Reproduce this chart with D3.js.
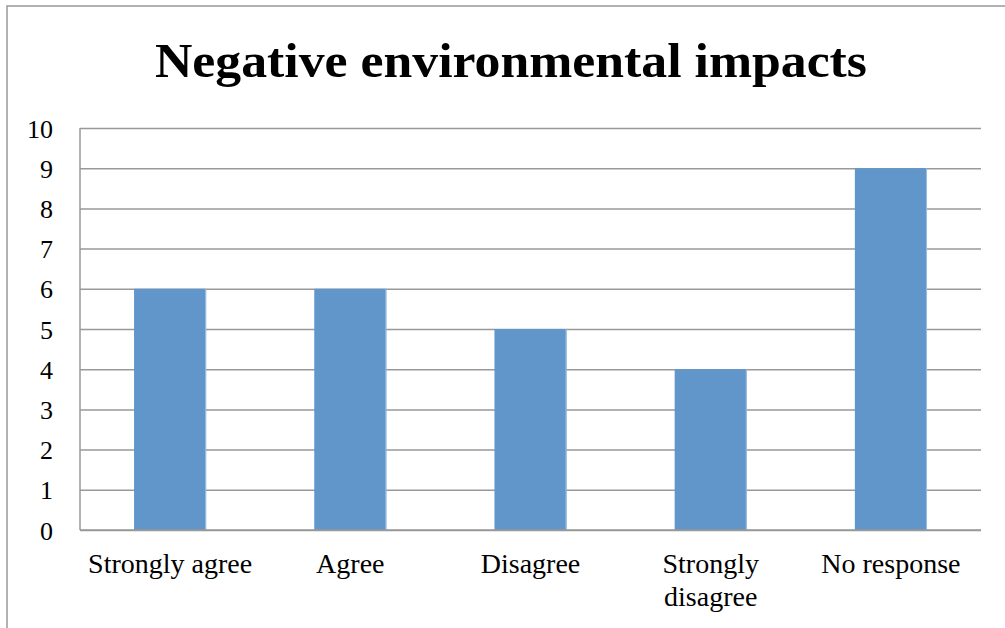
<!DOCTYPE html>
<html>
<head>
<meta charset="utf-8">
<script src="https://cdn.jsdelivr.net/npm/d3@7"></script>
<style>
  html, body { margin: 0; padding: 0; background: #fff; }
  svg { display: block; }
</style>
</head>
<body>
<script>
const title = "Negative environmental impacts";
const categories = ["Strongly agree", "Agree", "Disagree", "Strongly disagree", "No response"];
const values = [6, 6, 5, 4, 9];
const yTicks = [0, 1, 2, 3, 4, 5, 6, 7, 8, 9, 10];

const W = 1005, H = 628;
const plot = { left: 80, right: 981, top: 128, bottom: 530 };
const font = "'Liberation Serif', 'Times New Roman', serif";

const svg = d3.select("body").append("svg").attr("width", W).attr("height", H);

// outer frame
svg.append("rect")
  .attr("x", 7).attr("y", 6).attr("width", W + 10).attr("height", H + 10)
  .attr("fill", "#fff").attr("stroke", "#999").attr("stroke-width", 1.5);

const x = d3.scaleBand().domain(categories).range([plot.left, plot.right])
  .paddingInner(0.6).paddingOuter(0.3);
const y = d3.scaleLinear().domain([0, 10]).range([plot.bottom, plot.top]);

// title
svg.append("text")
  .attr("x", 511).attr("y", 77)
  .attr("text-anchor", "middle")
  .attr("font-family", font).attr("font-weight", "bold")
  .attr("font-size", 48)
  .attr("textLength", 712).attr("lengthAdjust", "spacingAndGlyphs")
  .text(title);

// gridlines
const yAxis = d3.axisLeft(y).tickValues(yTicks).tickSize(-(plot.right - plot.left)).tickPadding(27).tickFormat(d3.format("d"));
const gy = svg.append("g").attr("transform", `translate(${plot.left},0)`).call(yAxis);
gy.select(".domain").remove();
gy.selectAll(".tick line").attr("stroke", "#999").attr("stroke-width", 1.5);
gy.selectAll(".tick text")
  .attr("font-family", font).attr("font-size", 26).attr("fill", "#000")
  .attr("dy", "0.35em");

// left axis line
svg.append("line")
  .attr("x1", plot.left).attr("x2", plot.left)
  .attr("y1", plot.top).attr("y2", plot.bottom)
  .attr("stroke", "#999").attr("stroke-width", 1.5);

// bars
svg.append("g").selectAll("rect").data(values).join("rect")
  .attr("x", (d, i) => x(categories[i]))
  .attr("y", d => y(d))
  .attr("width", x.bandwidth())
  .attr("height", d => y(0) - y(d))
  .attr("fill", "#6096CA");
svg.append("g").selectAll("line").data(values).join("line")
  .attr("x1", (d, i) => x(categories[i]) + x.bandwidth() - 0.5)
  .attr("x2", (d, i) => x(categories[i]) + x.bandwidth() - 0.5)
  .attr("y1", d => y(d))
  .attr("y2", y(0))
  .attr("stroke", "#9CBFE3").attr("stroke-width", 1);

// bottom baseline redraw
svg.append("line")
  .attr("x1", plot.left).attr("x2", plot.right)
  .attr("y1", plot.bottom).attr("y2", plot.bottom)
  .attr("stroke", "#999").attr("stroke-width", 1.5);

// x labels with wrapping
const xl = svg.append("g");
categories.forEach(c => {
  const cx = x(c) + x.bandwidth() / 2;
  const t = xl.append("text")
    .attr("x", cx)
    .attr("y", 573)
    .attr("text-anchor", "middle")
    .attr("font-family", font).attr("font-size", 28).attr("fill", "#000")
    .text(c);
  if (t.node().getComputedTextLength() > x.step() * 0.98) {
    const words = c.split(" ");
    t.text(null);
    words.forEach((w, k) => {
      t.append("tspan").attr("x", cx)
        .attr("dy", k === 0 ? 0 : 33).text(w);
    });
  }
});
</script>
</body>
</html>
